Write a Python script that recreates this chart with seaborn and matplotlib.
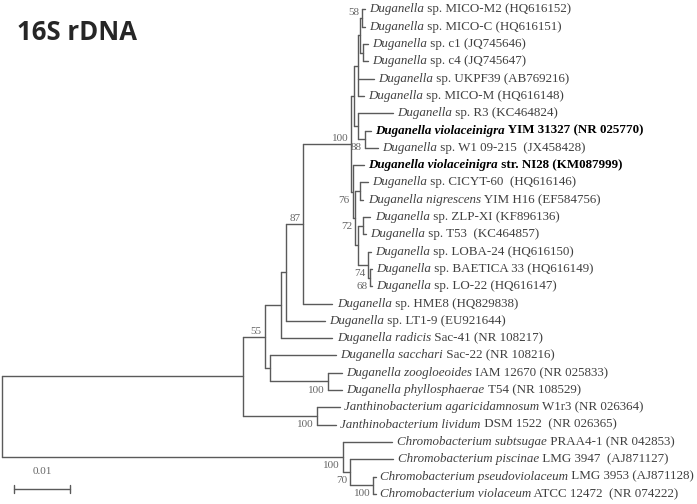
import matplotlib
matplotlib.use("Agg")
import matplotlib.pyplot as plt
import pandas as pd
import seaborn as sns

# tree (MEGA style NJ tree), branch lengths in substitutions/site, internal labels = bootstrap
NEWICK = ("(((((((((((t0:0.0005,t1:0.0005)58:0.0004,(t2:0.0009,t3:0.0009):0.0005):0.0004,"
          "t4:0.0029,t5:0.0011):0.0007,(t6:0.0063,(t7:0.0011,t8:0.0023)88:0.0013):0.0007):0.0004,"
          "(t9:0.0020,((t10:0.0013,t11:0.0005):0.0009,((t12:0.0013,t13:0.0005):0.0009,"
          "(t14:0.0005,(t15:0.0002,t16:0.0002)68:0.0004)74:0.0018):0.0005)72:0.0005)76:0.0002)100:0.0086,"
          "t17:0.0052)87:0.0030,t18:0.0068):0.0009,t19:0.0091):0.0030,"
          "(t20:0.0118,(t21:0.0025,t22:0.0025)100:0.0104):0.0009)55:0.0039,"
          "(t23:0.0041,t24:0.0034)100:0.0132):0.0430,"
          "(t25:0.0088,(t26:0.0077,(t27:0.0004,t28:0.0004)100:0.0041)70:0.0013)100:0.0609);")

LEAF_ITALIC = [
    "Duganella", "Duganella", "Duganella", "Duganella", "Duganella", "Duganella", "Duganella",
    "Duganella violaceinigra", "Duganella", "Duganella violaceinigra", "Duganella",
    "Duganella nigrescens", "Duganella", "Duganella", "Duganella", "Duganella", "Duganella",
    "Duganella", "Duganella", "Duganella radicis", "Duganella sacchari",
    "Duganella zoogloeoides", "Duganella phyllosphaerae",
    "Janthinobacterium agaricidamnosum", "Janthinobacterium lividum",
    "Chromobacterium subtsugae", "Chromobacterium piscinae",
    "Chromobacterium pseudoviolaceum", "Chromobacterium violaceum",
]
LEAF_REST = [
    "sp. MICO-M2 (HQ616152)", "sp. MICO-C (HQ616151)", "sp. c1 (JQ745646)", "sp. c4 (JQ745647)",
    "sp. UKPF39 (AB769216)", "sp. MICO-M (HQ616148)", "sp. R3 (KC464824)",
    "YIM 31327 (NR 025770)", "sp. W1 09-215  (JX458428)", "str. NI28 (KM087999)",
    "sp. CICYT-60  (HQ616146)", "YIM H16 (EF584756)", "sp. ZLP-XI (KF896136)",
    "sp. T53  (KC464857)", "sp. LOBA-24 (HQ616150)", "sp. BAETICA 33 (HQ616149)",
    "sp. LO-22 (HQ616147)", "sp. HME8 (HQ829838)", "sp. LT1-9 (EU921644)",
    "Sac-41 (NR 108217)", "Sac-22 (NR 108216)", "IAM 12670 (NR 025833)", "T54 (NR 108529)",
    "W1r3 (NR 026364)", "DSM 1522  (NR 026365)", "PRAA4-1 (NR 042853)",
    "LMG 3947  (AJ871127)", "LMG 3953 (AJ871128)", "ATCC 12472  (NR 074222)",
]
BOLD_LEAVES = [7, 9]
SCALE_LEN = 0.01

PX = 5600.0          # pixels per substitution/site
ROW = 17.3           # pixels per leaf row
Y0 = 9.5             # pixel row of first leaf


def parse_newick(s):
    s = s.strip().rstrip(";") + ";"
    pos = 0

    def node():
        nonlocal pos
        kids = []
        if s[pos] == "(":
            pos += 1
            while True:
                kids.append(node())
                if s[pos] == ",":
                    pos += 1
                    continue
                pos += 1
                break
        st = pos
        while s[pos] not in ":,);":
            pos += 1
        label = s[st:pos]
        length = 0.0
        if s[pos] == ":":
            pos += 1
            st = pos
            while s[pos] not in ",);":
                pos += 1
            length = float(s[st:pos])
        return {"label": label, "len": length, "kids": kids}

    return node()


def layout(n, x0, leaves):
    n["x"] = x0 + n["len"]
    if not n["kids"]:
        n["y"] = len(leaves)
        leaves.append(n)
    else:
        for c in n["kids"]:
            layout(c, n["x"], leaves)
        n["y"] = (n["kids"][0]["y"] + n["kids"][-1]["y"]) / 2


root = parse_newick(NEWICK)
leaves = []
layout(root, 0.0, leaves)

# collect segments + bootstrap labels
rows, boots = [], []
stack = [(root, None)]
seg = 0
while stack:
    n, pos_in_parent = stack.pop()
    if n["kids"]:
        rows += [(n["x"], n["kids"][0]["y"], seg), (n["x"], n["kids"][-1]["y"], seg)]
        seg += 1
        for i, c in enumerate(n["kids"]):
            rows += [(n["x"], c["y"], seg), (c["x"], c["y"], seg)]
            seg += 1
            stack.append((c, "upper" if i == 0 else "lower"))
        if n["label"]:
            boots.append((n["x"], n["y"], n["label"], pos_in_parent))
segs = pd.DataFrame(rows, columns=["x", "y", "seg"])

sns.set_style("white")
plt.rcParams["font.family"] = ["Liberation Serif", "DejaVu Serif"]

fig = plt.figure(figsize=(6.97, 5.04), dpi=100)
ax = fig.add_axes([0, 0, 1, 1])
sns.lineplot(data=segs, x="x", y="y", units="seg", estimator=None, sort=False,
             color="#5a5a5a", linewidth=1.0, ax=ax)

# leaf labels: italic name + plain strain
for i, lf in enumerate(leaves):
    bold = i in BOLD_LEAVES
    col = "black" if bold else "#404040"
    w = "bold" if bold else "normal"
    t = ax.text(lf["x"] + 4.5 / PX, lf["y"], LEAF_ITALIC[i], style="italic", fontweight=w,
                fontsize=9.4, color=col, va="center", ha="left")
    ax.annotate(" " + LEAF_REST[i], xy=(1, 0.5), xycoords=t, va="center", ha="left",
                fontsize=9.4, fontweight=w, color=col)

# bootstrap values
for x, y, lab, where in boots:
    dy = -0.3 if where == "upper" else 0.5
    ax.text(x - 3 / PX, y + dy, lab, fontsize=8, color="#666666", ha="right", va="center")

# scale bar
sx = 12 / PX
sy = (489 - Y0) / ROW
ax.plot([sx, sx + SCALE_LEN], [sy, sy], color="#5a5a5a", lw=1.0)
for xx in (sx, sx + SCALE_LEN):
    ax.plot([xx, xx], [sy - 0.23, sy + 0.23], color="#5a5a5a", lw=1.0)
ax.text(sx + SCALE_LEN / 2, sy - 1.0, f"{SCALE_LEN:g}", fontsize=8, color="#666666",
        ha="center", va="center")

ax.set_xlim(-2 / PX, 695 / PX)
ax.set_ylim((504 - Y0) / ROW, -Y0 / ROW)
ax.set_axis_off()

fig.text(17 / 697, 1 - 40 / 504, "16S rDNA", family=["Open Sans", "DejaVu Sans"],
         fontweight="bold", fontsize=18.5, ha="left", va="baseline")

fig.savefig("out.png", dpi=100)
